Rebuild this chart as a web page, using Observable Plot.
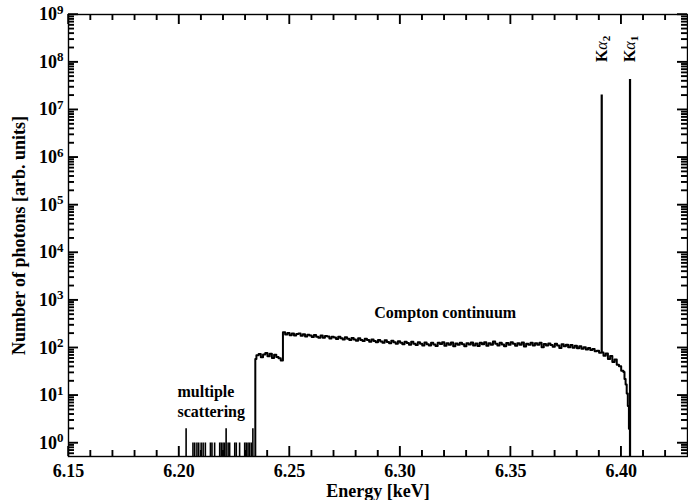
<!DOCTYPE html>
<html><head><meta charset="utf-8">
<script src="https://cdn.jsdelivr.net/npm/d3@7"></script>
<script src="https://cdn.jsdelivr.net/npm/@observablehq/plot@0.6"></script>
<style>html,body{margin:0;padding:0;background:#fff;}</style>
</head><body><div id="chart"></div>
<script>
// ---- data ----
const xMajorTicks = [6.15, 6.20, 6.25, 6.30, 6.35, 6.40];
const xMinorTicks = [6.16,6.17,6.18,6.19,6.21,6.22,6.23,6.24,6.26,6.27,6.28,6.29,6.31,6.32,6.33,6.34,6.36,6.37,6.38,6.39,6.41,6.42];
const yExponents = [0,1,2,3,4,5,6,7,8,9];
const yMantissas = [2,3,4,5,6,7,8,9];
const yMinorDecades = [0.1,1,10,100,1e3,1e4,1e5,1e6,1e7,1e8];

// continuum spectrum (energy keV, counts)
const contE = [6.2344,6.2345,6.235,6.236,6.237,6.238,6.239,6.240,6.241,6.242,6.243,6.244,6.245,6.246,
6.247,6.248,6.249,6.250,6.251,6.252,6.253,6.254,6.255,6.256,6.257,6.258,6.259,6.260,6.261,6.262,6.263,6.264,6.265,6.266,6.267,6.268,6.269,6.270,
6.271,6.272,6.273,6.274,6.275,6.276,6.277,6.278,6.279,6.280,6.281,6.282,6.283,6.284,6.285,6.286,6.287,6.288,6.289,6.290,
6.291,6.292,6.293,6.294,6.295,6.296,6.297,6.298,6.299,6.300,6.301,6.302,6.303,6.304,6.305,6.306,6.307,6.308,6.309,6.310,
6.311,6.312,6.313,6.314,6.315,6.316,6.317,6.318,6.319,6.320,6.321,6.322,6.323,6.324,6.325,6.326,6.327,6.328,6.329,6.330,
6.331,6.332,6.333,6.334,6.335,6.336,6.337,6.338,6.339,6.340,6.341,6.342,6.343,6.344,6.345,6.346,6.347,6.348,6.349,6.350,
6.351,6.352,6.353,6.354,6.355,6.356,6.357,6.358,6.359,6.360,6.361,6.362,6.363,6.364,6.365,6.366,6.367,6.368,6.369,6.370,
6.371,6.372,6.373,6.374,6.375,6.376,6.377,6.378,6.379,6.380,6.381,6.382,6.383,6.384,6.385,6.386,6.387,6.388,6.389,6.390,
6.391,6.392,6.393,6.394,6.395,6.396,6.397,6.398,6.399,6.400,6.401,6.4015,6.402,6.4025,6.403,6.4035,6.404];
const contC = [0,58,70,74,63,72,78,66,75,61,71,64,60,54,
212,190,204,183,199,181,195,200,178,192,172,188,180,168,186,171,163,181,162,177,172,156,171,164,
153,170,158,149,166,154,145,161,150,141,159,146,138,154,145,133,150,139,131,146,
136,128,143,132,124,140,130,121,137,128,118,134,126,115,133,122,114,130,121,112,
129,119,111,128,117,109,127,120,131,110,124,116,129,107,123,115,128,118,108,125,
117,129,112,123,109,127,118,131,110,124,116,136,121,111,128,117,107,126,115,131,
121,110,125,116,129,106,122,115,127,111,124,116,128,103,120,112,123,114,105,121,
112,99,118,108,116,103,114,100,110,98,107,95,103,92,99,90,94,84,87,79,
80,68,76,58,67,50,57,44,41,33,31,22,17,11,6,2,2];

// multiple scattering single counts
const msE = [6.2032,6.2063,6.2071,6.2081,6.2089,6.2100,6.2109,6.2119,6.2142,6.2149,6.2161,6.2184,6.2191,6.2199,6.2206,6.2213,6.2222,6.2229,6.2252,6.2259,6.2274,6.2297,6.2304,6.2312,6.2319,6.2327,6.2334];
const msC = [2,1,1,1,1,1,1,1,1,1,1,1,1,1,1,2,1,1,1,1,1,1,1,1,1,1,2];

// characteristic lines
const peakNames = ["Kα2", "Kα1"];
const peakE = [6.3912, 6.4040];
const peakC = [2.05e7, 4.3e7];
const peakBase = [78, 0];

// ---- build ----
const W = 688, H = 500, mL = 68, mR = 1, mT = 14, mB = 44;
const plotW = W - mL - mR, plotH = H - mT - mB;
const yFloor = 0.1;
const cont = contE.map((e, i) => ({e, c: contC[i]}));
const ms = msE.map((e, i) => ({e, c: msC[i]}));
const peaks = peakE.map((e, i) => ({e, c: peakC[i], b: peakBase[i], name: peakNames[i]}));
const yMajor = yExponents.map(k => Math.pow(10, k));
const yMinor = yMinorDecades.flatMap(d => yMantissas.map(m => m * d)).filter(v => v > 0.52 && v < 1e9);

const font = "'Liberation Serif', 'Times New Roman', serif";
const tk = {stroke: "#000", strokeWidth: 1.3, strokeOpacity: 1};
const MAJ = 10, MIN = 6;

const plot = Plot.plot({
  width: W,
  height: H,
  marginLeft: mL,
  marginRight: mR,
  marginTop: mT,
  marginBottom: mB,
  style: {fontFamily: font, fontWeight: "bold", fontSize: "18px"},
  x: {domain: [6.15, 6.43]},
  y: {type: "log", domain: [0.52, 1e9]},
  marks: [
    // spectrum
    Plot.line(cont, {x: "e", y: d => Math.max(d.c, yFloor), curve: "step-after", stroke: "black", strokeWidth: 2, clip: true}),
    Plot.ruleX(ms, {x: "e", y1: yFloor, y2: "c", stroke: "black", strokeWidth: 1.6, clip: true}),
    Plot.ruleX(peaks, {x: "e", y1: d => Math.max(d.b, yFloor), y2: "c", stroke: "black", strokeWidth: 2.2, clip: true}),
    // inward ticks on all four sides
    Plot.ruleX(xMajorTicks, {...tk, x: d => d, insetTop: plotH - MAJ}),
    Plot.ruleX(xMinorTicks, {...tk, x: d => d, insetTop: plotH - MIN}),
    Plot.ruleX(xMajorTicks, {...tk, x: d => d, insetBottom: plotH - MAJ}),
    Plot.ruleX(xMinorTicks, {...tk, x: d => d, insetBottom: plotH - MIN}),
    Plot.ruleY(yMajor, {...tk, y: d => d, insetRight: plotW - MAJ}),
    Plot.ruleY(yMinor, {...tk, y: d => d, insetRight: plotW - MIN}),
    Plot.ruleY(yMajor, {...tk, y: d => d, insetLeft: plotW - MAJ}),
    Plot.ruleY(yMinor, {...tk, y: d => d, insetLeft: plotW - MIN}),
    // annotations
    Plot.text(peaks, {x: "e", y: 1e8, text: "name", rotate: -90, textAnchor: "start", lineAnchor: "middle", fontSize: 16, fontWeight: "bold"}),
    Plot.text(["Compton continuum"], {x: 6.3204, y: 550, text: d => d, fontSize: 16, fontWeight: "bold"}),
    Plot.text(["multiple\nscattering"], {x: 6.1993, y: 7.8, text: d => d, textAnchor: "start", lineAnchor: "middle", lineHeight: 1.25, fontSize: 16, fontWeight: "bold"}),
    // axis labels
    Plot.axisX(xMajorTicks, {anchor: "bottom", tickSize: 0, tickPadding: 8, tickFormat: d3.format(".2f"), label: "Energy [keV]", labelAnchor: "center", labelArrow: "none", labelOffset: 40, fontSize: 18}),
    Plot.axisY(yMajor, {anchor: "left", tickSize: 0, tickPadding: 5, tickFormat: d => "10^" + Math.round(Math.log10(d)), label: "Number of photons [arb. units]", labelAnchor: "center", labelArrow: "none", labelOffset: 56, fontSize: 18}),
    Plot.frame({stroke: "black", strokeWidth: 1.4})
  ]
});

// superscripts / subscripts as real text
d3.select(plot).selectAll("text").each(function() {
  const t = this.textContent;
  let m = /^10\^(\d+)$/.exec(t);
  if (m) {
    this.textContent = "10";
    d3.select(this).append("tspan").attr("dy", "-0.5em").attr("font-size", "13px").text(m[1]);
    return;
  }
  m = /^Kα(\d)$/.exec(t);
  if (m) {
    this.textContent = "K";
    d3.select(this).append("tspan").attr("font-style", "italic").attr("font-weight", "normal").text("α");
    d3.select(this).append("tspan").attr("dy", "0.3em").attr("font-size", "11px").text(m[1]);
  }
});

// reinforce inward ticks using the plot's own scales
const sx = plot.scale("x"), sy = plot.scale("y");
const gt = d3.select(plot).append("g").attr("stroke", "#000").attr("stroke-width", 1.4).attr("fill", "none");
const x0 = mL, x1 = W - mR, y0 = mT, y1 = H - mB;
[[xMajorTicks, MAJ], [xMinorTicks, MIN]].forEach(([vals, len]) => vals.forEach(v => {
  const px = sx.apply(v);
  gt.append("line").attr("x1", px).attr("x2", px).attr("y1", y1).attr("y2", y1 - len);
  gt.append("line").attr("x1", px).attr("x2", px).attr("y1", y0).attr("y2", y0 + len);
}));
[[yMajor, MAJ], [yMinor, MIN]].forEach(([vals, len]) => vals.forEach(v => {
  const py = sy.apply(v);
  gt.append("line").attr("y1", py).attr("y2", py).attr("x1", x0).attr("x2", x0 + len);
  gt.append("line").attr("y1", py).attr("y2", py).attr("x1", x1).attr("x2", x1 - len);
}));
document.getElementById("chart").appendChild(plot);
</script>
</body></html>
